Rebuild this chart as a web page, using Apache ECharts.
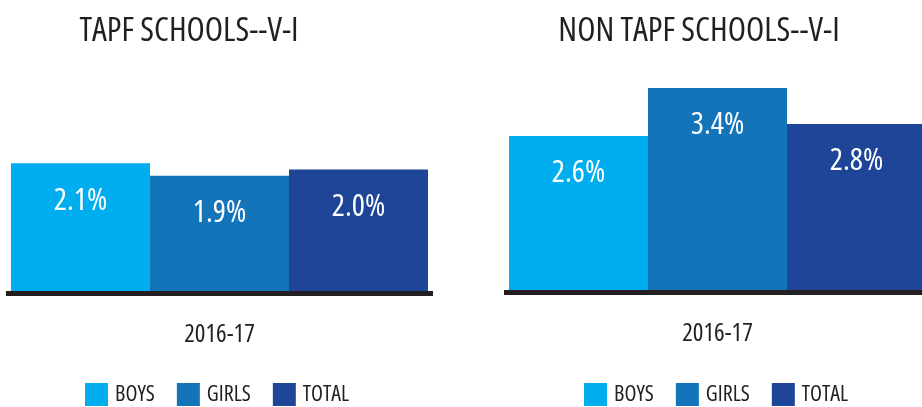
<!DOCTYPE html>
<html>
<head>
<meta charset="utf-8">
<script src="https://cdn.jsdelivr.net/npm/echarts@6/dist/echarts.min.js"></script>
<style>
  html, body { margin: 0; padding: 0; background: #fff; }
  #chart { width: 922px; height: 407px; }
</style>
</head>
<body>
<div id="chart"></div>
<script>
// data
const categories = ['2016-17'];
const seriesNames = ['BOYS', 'GIRLS', 'TOTAL'];
const tapfValues = [2.1, 1.9, 2.0];
const nonTapfValues = [2.6, 3.4, 2.8];
const titles = ['TAPF SCHOOLS--V-I', 'NON TAPF SCHOOLS--V-I'];

const colors = ['#00aeef', '#1474ba', '#1e4597'];
const FONT = '"Open Sans", "DejaVu Sans Condensed", sans-serif';
const STRETCH = 'condensed'; // goes into the canvas font string -> condensed face
const INK = '#231f20';

const chart = echarts.init(document.getElementById('chart'));

function makeSeries(values, idx) {
    return values.map(function (v, i) {
        return {
            name: seriesNames[i],
            type: 'bar',
            xAxisIndex: idx,
            yAxisIndex: idx,
            barWidth: 139,
            barGap: 0,
            itemStyle: { color: colors[i] },
            label: {
                show: true,
                position: 'insideTop',
                distance: 22,
                color: '#fff',
                fontFamily: FONT,
                fontWeight: STRETCH,
                fontSize: 31,
                formatter: function (p) { return p.value.toFixed(1) + '%'; }
            },
            data: [v]
        };
    });
}

function xAxisOf(idx) {
    return {
        type: 'category',
        gridIndex: idx,
        data: categories,
        z: 5,
        axisLine: { lineStyle: { color: INK, width: 5, cap: 'butt' } },
        axisTick: { show: false },
        axisLabel: { color: INK, fontFamily: FONT, fontWeight: STRETCH, fontSize: 25, margin: 29 }
    };
}

function yAxisOf(idx) {
    return {
        type: 'value',
        gridIndex: idx,
        min: 0,
        max: 4,
        show: false,
        splitLine: { show: false }
    };
}

const legendBase = {
    data: seriesNames,
    icon: 'rect',
    padding: 0,
    itemWidth: 23,
    itemHeight: 23,
    itemGap: 22,
    top: 383,
    textStyle: { color: INK, fontFamily: FONT, fontWeight: STRETCH, fontSize: 22, padding: [0, 0, 0, 2] }
};

const titleStyle = { color: INK, fontFamily: FONT, fontWeight: STRETCH, fontSize: 33.5 };

const option = {
    animation: false,
    title: [
        { text: titles[0], left: 184, top: 9, textAlign: 'center', textStyle: titleStyle },
        { text: titles[1], left: 694, top: 9, textAlign: 'center', textStyle: titleStyle }
    ],
    legend: [
        Object.assign({}, legendBase, { left: 85 }),
        Object.assign({}, legendBase, { left: 584 })
    ],
    grid: [
        { left: 6, width: 427, top: 45.5, bottom: 113.5, outerBoundsMode: 'none' },
        { left: 504, width: 427, top: 52, bottom: 115, outerBoundsMode: 'none' }
    ],
    xAxis: [xAxisOf(0), xAxisOf(1)],
    yAxis: [yAxisOf(0), yAxisOf(1)],
    series: makeSeries(tapfValues, 0).concat(makeSeries(nonTapfValues, 1))
};

chart.setOption(option);
</script>
</body>
</html>
